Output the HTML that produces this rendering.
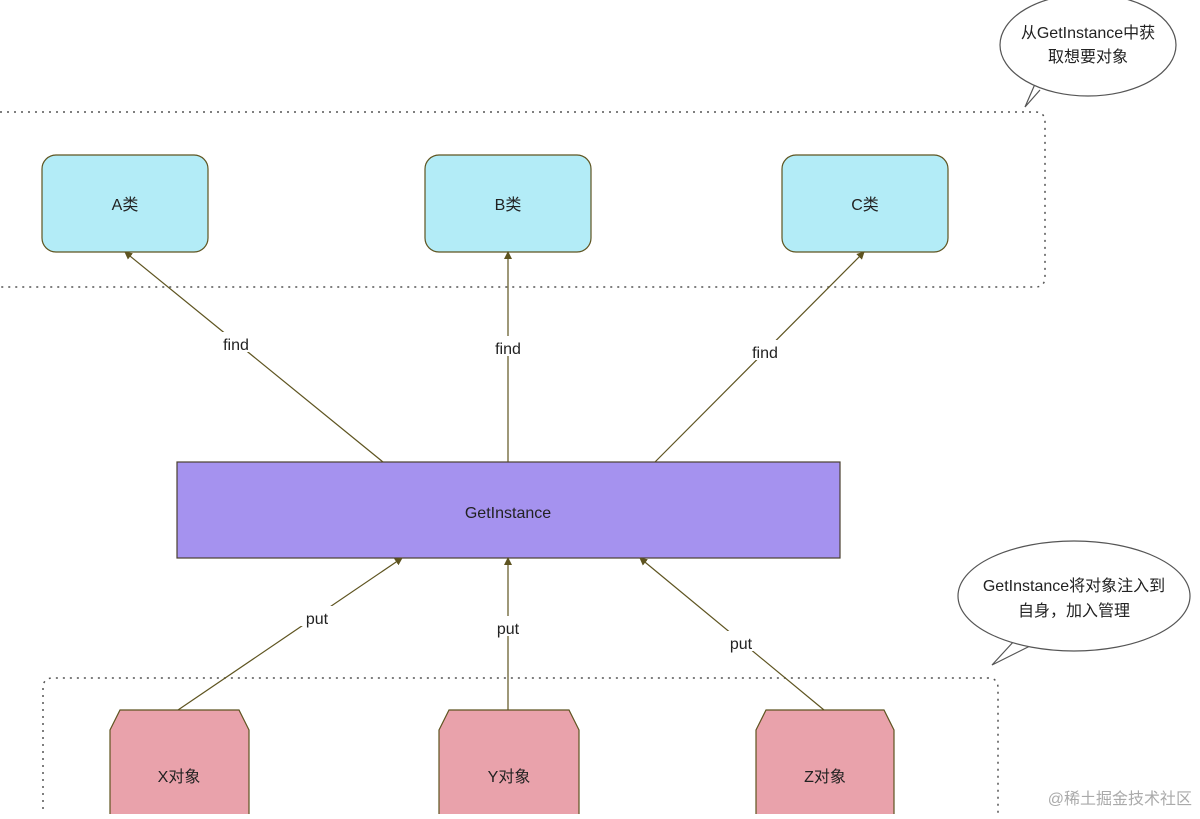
<!DOCTYPE html>
<html><head><meta charset="utf-8"><style>
html,body{margin:0;padding:0;background:#fff;}
svg text{font-family:"Liberation Sans","Noto Sans CJK SC",sans-serif;fill:#222;}
</style></head><body>
<svg width="1200" height="814" viewBox="0 0 1200 814" xmlns="http://www.w3.org/2000/svg">
<defs>
<marker id="ar" markerWidth="8" markerHeight="8" refX="7" refY="4" orient="auto" markerUnits="userSpaceOnUse">
<path d="M0,0 L8,4 L0,8 Z" fill="#5e5420"/>
</marker>
</defs>
<!-- dotted groups -->
<path d="M0,112 H1035 Q1045,112 1045,122 V277 Q1045,287 1035,287 H0" fill="none" stroke="#555" stroke-width="1.5" stroke-dasharray="2,5"/>
<path d="M43,830 V688 Q43,678 53,678 H988 Q998,678 998,688 V830" fill="none" stroke="#555" stroke-width="1.5" stroke-dasharray="2,5"/>
<!-- bubbles -->
<path d="M1040,90 L1025,107 L1035,84" fill="#fff" stroke="#555" stroke-width="1.2"/>
<ellipse cx="1088" cy="45" rx="88" ry="51" fill="#fff" stroke="#555" stroke-width="1.2"/>
<path d="M1015,640 L992,665 L1030,646" fill="#fff" stroke="#555" stroke-width="1.2"/>
<ellipse cx="1074" cy="596" rx="116" ry="55" fill="#fff" stroke="#555" stroke-width="1.2"/>
<text x="1088" y="38" font-size="16" text-anchor="middle">从GetInstance中获</text>
<text x="1088" y="62" font-size="16" text-anchor="middle">取想要对象</text>
<text x="1074" y="591" font-size="16" text-anchor="middle">GetInstance将对象注入到</text>
<text x="1074" y="616" font-size="16" text-anchor="middle">自身，加入管理</text>
<!-- class boxes -->
<rect x="42" y="155" width="166" height="97" rx="14" fill="#b3ecf7" stroke="#5e5420" stroke-width="1.2"/>
<rect x="425" y="155" width="166" height="97" rx="14" fill="#b3ecf7" stroke="#5e5420" stroke-width="1.2"/>
<rect x="782" y="155" width="166" height="97" rx="14" fill="#b3ecf7" stroke="#5e5420" stroke-width="1.2"/>
<text x="125" y="210" font-size="16" text-anchor="middle">A类</text>
<text x="508" y="210" font-size="16" text-anchor="middle">B类</text>
<text x="865" y="210" font-size="16" text-anchor="middle">C类</text>
<!-- GetInstance -->
<rect x="177" y="462" width="663" height="96" fill="#a592ef" stroke="#4a4030" stroke-width="1.2"/>
<text x="508" y="518" font-size="16" text-anchor="middle">GetInstance</text>
<!-- octagons -->
<path d="M120,710 H239 L249,730 V830 H110 V730 Z" fill="#e9a2ab" stroke="#5e5420" stroke-width="1.2"/>
<path d="M449,710 H569 L579,730 V830 H439 V730 Z" fill="#e9a2ab" stroke="#5e5420" stroke-width="1.2"/>
<path d="M766,710 H884 L894,730 V830 H756 V730 Z" fill="#e9a2ab" stroke="#5e5420" stroke-width="1.2"/>
<text x="179" y="782" font-size="16" text-anchor="middle">X对象</text>
<text x="509" y="782" font-size="16" text-anchor="middle">Y对象</text>
<text x="825" y="782" font-size="16" text-anchor="middle">Z对象</text>
<!-- connectors -->
<g stroke="#5e5420" stroke-width="1.2" fill="none" marker-end="url(#ar)">
<line x1="383" y1="462" x2="125" y2="252"/>
<line x1="508" y1="462" x2="508" y2="252"/>
<line x1="655" y1="462" x2="864" y2="252"/>
<line x1="178" y1="710" x2="402" y2="558"/>
<line x1="508" y1="710" x2="508" y2="558"/>
<line x1="824" y1="710" x2="640" y2="558"/>
</g>
<g font-size="16" text-anchor="middle">
<rect x="216" y="332" width="40" height="20" fill="#fff"/><text x="236" y="350">find</text>
<rect x="488" y="336" width="40" height="20" fill="#fff"/><text x="508" y="354">find</text>
<rect x="745" y="340" width="40" height="20" fill="#fff"/><text x="765" y="358">find</text>
<rect x="300" y="606" width="34" height="20" fill="#fff"/><text x="317" y="624">put</text>
<rect x="491" y="616" width="34" height="20" fill="#fff"/><text x="508" y="634">put</text>
<rect x="724" y="631" width="34" height="20" fill="#fff"/><text x="741" y="649">put</text>
</g>
<text x="1192" y="804" font-size="16" text-anchor="end" style="fill:#aaa">@稀土掘金技术社区</text>
</svg>
</body></html>
